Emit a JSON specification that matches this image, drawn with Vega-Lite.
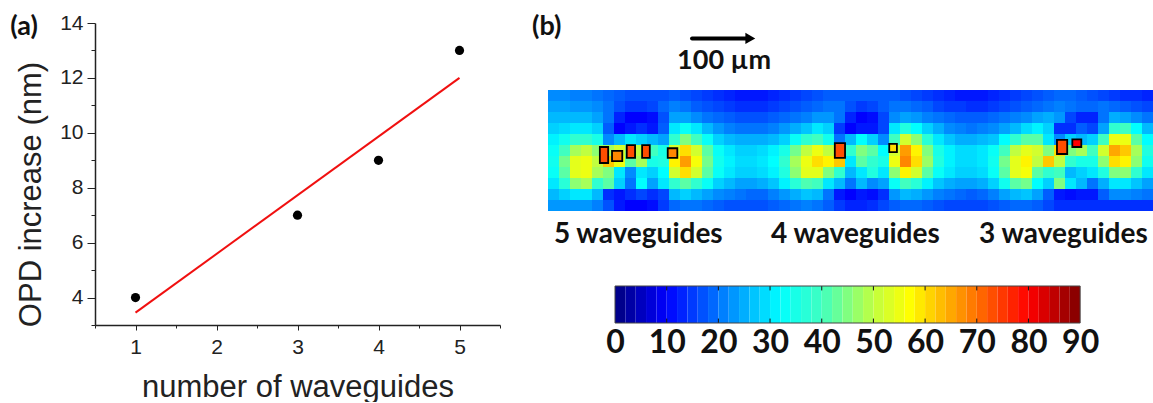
{"$schema":"https://vega.github.io/schema/vega-lite/v6.json","padding":{"left":10,"top":0,"right":0,"bottom":0},"background":"white","config":{"view":{"stroke":null}},"spacing":31,"hconcat":[{"bounds":"flush","spacing":0,"vconcat":[{"width":405,"height":23,"data":{"values":[{"x":-0.376,"y":13.87,"t":"(a)"}]},"mark":{"type":"text","font":"Lato","fontWeight":"bold","fontSize":27,"color":"#111"},"encoding":{"x":{"field":"x","type":"quantitative","axis":null,"scale":{"domain":[0.5,5.5],"nice":false,"zero":false}},"y":{"field":"y","type":"quantitative","axis":null,"scale":{"domain":[14,14.84],"nice":false,"zero":false}},"text":{"field":"t"}}},{"width":405,"height":302,"resolve":{"axis":{"x":"independent","y":"independent"}},"layer":[{"data":{"values":[{"n":1,"o":3.45},{"n":5,"o":12}]},"mark":{"type":"line","color":"#f01010","strokeWidth":2},"encoding":{"x":{"field":"n","type":"quantitative","scale":{"domain":[0.5,5.5],"nice":false,"zero":false},"axis":{"orient":"bottom","title":"number of waveguides","titleFont":"Liberation Sans","titleFontSize":31,"titleFontWeight":"normal","titleColor":"#222","titlePadding":15,"values":[1,2,3,4,5],"format":"d","labelFont":"Liberation Sans","labelFontSize":21,"labelColor":"#222","labelPadding":6,"labelFlush":false,"labelOverlap":false,"tickColor":"#222","tickSize":5,"domainColor":"#222","domainWidth":1.5,"grid":false}},"y":{"field":"o","type":"quantitative","scale":{"domain":[3,14],"nice":false,"zero":false},"axis":{"orient":"left","title":"OPD increase (nm)","titleFont":"Liberation Sans","titleFontSize":31,"titleFontWeight":"normal","titleColor":"#222","titleX":-48,"titleY":171,"values":[4,6,8,10,12,14],"format":"d","labelFont":"Liberation Sans","labelFontSize":21,"labelColor":"#222","labelPadding":4,"labelFlush":false,"labelOverlap":false,"tickColor":"#222","tickSize":8,"domainColor":"#222","domainWidth":1.5,"grid":false}}}},{"data":{"values":[{"n":1,"o":4},{"n":3,"o":7},{"n":4,"o":9},{"n":5,"o":13}]},"mark":{"type":"point","filled":true,"color":"black","opacity":1,"size":85},"encoding":{"x":{"field":"n","type":"quantitative","axis":{"orient":"bottom","title":null,"values":[0.5,1.5,2.5,3.5,4.5,5.5],"labels":false,"tickSize":3,"tickColor":"#222","domain":false,"grid":false}},"y":{"field":"o","type":"quantitative","axis":{"orient":"left","title":null,"values":[3,5,7,9,11,13],"labels":false,"tickSize":4,"tickColor":"#222","domain":false,"grid":false}}}}]}]},{"bounds":"flush","spacing":0,"vconcat":[{"width":605,"height":90,"layer":[{"data":{"values":[{"x":-2,"y":42,"t":"(b)"}]},"mark":{"type":"text","font":"Lato","fontWeight":"bold","fontSize":27,"color":"#111"},"encoding":{"x":{"field":"x","type":"quantitative","axis":null,"scale":{"domain":[0,945],"nice":false,"zero":false}},"y":{"field":"y","type":"quantitative","axis":null,"scale":{"domain":[140.6,0],"nice":false,"zero":false}},"text":{"field":"t"}}},{"data":{"values":[{"x":275,"y":95,"t":"100 µm"}]},"mark":{"type":"text","font":"Lato","fontWeight":"bold","fontSize":27,"color":"#111"},"encoding":{"x":{"field":"x","type":"quantitative"},"y":{"field":"y","type":"quantitative"},"text":{"field":"t"}}},{"data":{"values":[{"x":225,"x2":310,"y":60}]},"mark":{"type":"rule","color":"black","strokeWidth":4,"strokeCap":"round"},"encoding":{"x":{"field":"x","type":"quantitative"},"x2":{"field":"x2"},"y":{"field":"y","type":"quantitative"}}},{"data":{"values":[{"x":316,"y":60}]},"mark":{"type":"point","shape":"triangle-right","filled":true,"color":"black","opacity":1,"size":130},"encoding":{"x":{"field":"x","type":"quantitative"},"y":{"field":"y","type":"quantitative"}}}]},{"width":605,"height":121,"resolve":{"scale":{"x":"independent","y":"independent"}},"layer":[{"data":{"values":[
{"c":0,"r":0,"v":22},{"c":1,"r":0,"v":22},{"c":2,"r":0,"v":21},{"c":3,"r":0,"v":21},{"c":4,"r":0,"v":20},{"c":5,"r":0,"v":19},{"c":6,"r":0,"v":18},{"c":7,"r":0,"v":17},{"c":8,"r":0,"v":17},{"c":9,"r":0,"v":17},{"c":10,"r":0,"v":17},{"c":11,"r":0,"v":18},{"c":12,"r":0,"v":17},{"c":13,"r":0,"v":16},{"c":14,"r":0,"v":15},{"c":15,"r":0,"v":14},{"c":16,"r":0,"v":13},{"c":17,"r":0,"v":12},{"c":18,"r":0,"v":12},{"c":19,"r":0,"v":12},{"c":20,"r":0,"v":13},{"c":21,"r":0,"v":14},{"c":22,"r":0,"v":15},{"c":23,"r":0,"v":16},{"c":24,"r":0,"v":17},{"c":25,"r":0,"v":18},{"c":26,"r":0,"v":18},{"c":27,"r":0,"v":18},{"c":28,"r":0,"v":18},{"c":29,"r":0,"v":18},{"c":30,"r":0,"v":18},{"c":31,"r":0,"v":18},{"c":32,"r":0,"v":17},{"c":33,"r":0,"v":16},{"c":34,"r":0,"v":15},{"c":35,"r":0,"v":14},{"c":36,"r":0,"v":13},{"c":37,"r":0,"v":12},{"c":38,"r":0,"v":12},{"c":39,"r":0,"v":12},{"c":40,"r":0,"v":13},{"c":41,"r":0,"v":14},{"c":42,"r":0,"v":15},{"c":43,"r":0,"v":16},{"c":44,"r":0,"v":17},{"c":45,"r":0,"v":18},{"c":46,"r":0,"v":19},{"c":47,"r":0,"v":19},{"c":48,"r":0,"v":18},{"c":49,"r":0,"v":17},{"c":50,"r":0,"v":16},{"c":51,"r":0,"v":15},{"c":52,"r":0,"v":14},{"c":53,"r":0,"v":14},{"c":54,"r":0,"v":13},
{"c":0,"r":1,"v":24},{"c":1,"r":1,"v":24},{"c":2,"r":1,"v":23},{"c":3,"r":1,"v":23},{"c":4,"r":1,"v":22},{"c":5,"r":1,"v":20},{"c":6,"r":1,"v":17},{"c":7,"r":1,"v":15},{"c":8,"r":1,"v":15},{"c":9,"r":1,"v":16},{"c":10,"r":1,"v":19},{"c":11,"r":1,"v":21},{"c":12,"r":1,"v":20},{"c":13,"r":1,"v":18},{"c":14,"r":1,"v":17},{"c":15,"r":1,"v":16},{"c":16,"r":1,"v":15},{"c":17,"r":1,"v":14},{"c":18,"r":1,"v":14},{"c":19,"r":1,"v":14},{"c":20,"r":1,"v":15},{"c":21,"r":1,"v":16},{"c":22,"r":1,"v":17},{"c":23,"r":1,"v":18},{"c":24,"r":1,"v":19},{"c":25,"r":1,"v":20},{"c":26,"r":1,"v":20},{"c":27,"r":1,"v":17},{"c":28,"r":1,"v":15},{"c":29,"r":1,"v":16},{"c":30,"r":1,"v":18},{"c":31,"r":1,"v":20},{"c":32,"r":1,"v":20},{"c":33,"r":1,"v":19},{"c":34,"r":1,"v":18},{"c":35,"r":1,"v":16},{"c":36,"r":1,"v":15},{"c":37,"r":1,"v":15},{"c":38,"r":1,"v":14},{"c":39,"r":1,"v":14},{"c":40,"r":1,"v":15},{"c":41,"r":1,"v":16},{"c":42,"r":1,"v":17},{"c":43,"r":1,"v":18},{"c":44,"r":1,"v":19},{"c":45,"r":1,"v":20},{"c":46,"r":1,"v":21},{"c":47,"r":1,"v":20},{"c":48,"r":1,"v":19},{"c":49,"r":1,"v":19},{"c":50,"r":1,"v":20},{"c":51,"r":1,"v":19},{"c":52,"r":1,"v":18},{"c":53,"r":1,"v":17},{"c":54,"r":1,"v":16},
{"c":0,"r":2,"v":26},{"c":1,"r":2,"v":26},{"c":2,"r":2,"v":26},{"c":3,"r":2,"v":26},{"c":4,"r":2,"v":24},{"c":5,"r":2,"v":20},{"c":6,"r":2,"v":13},{"c":7,"r":2,"v":10},{"c":8,"r":2,"v":10},{"c":9,"r":2,"v":11},{"c":10,"r":2,"v":17},{"c":11,"r":2,"v":24},{"c":12,"r":2,"v":24},{"c":13,"r":2,"v":22},{"c":14,"r":2,"v":20},{"c":15,"r":2,"v":19},{"c":16,"r":2,"v":18},{"c":17,"r":2,"v":17},{"c":18,"r":2,"v":17},{"c":19,"r":2,"v":17},{"c":20,"r":2,"v":18},{"c":21,"r":2,"v":19},{"c":22,"r":2,"v":20},{"c":23,"r":2,"v":21},{"c":24,"r":2,"v":23},{"c":25,"r":2,"v":23},{"c":26,"r":2,"v":20},{"c":27,"r":2,"v":13},{"c":28,"r":2,"v":10},{"c":29,"r":2,"v":11},{"c":30,"r":2,"v":16},{"c":31,"r":2,"v":22},{"c":32,"r":2,"v":24},{"c":33,"r":2,"v":23},{"c":34,"r":2,"v":21},{"c":35,"r":2,"v":20},{"c":36,"r":2,"v":19},{"c":37,"r":2,"v":18},{"c":38,"r":2,"v":18},{"c":39,"r":2,"v":18},{"c":40,"r":2,"v":19},{"c":41,"r":2,"v":20},{"c":42,"r":2,"v":21},{"c":43,"r":2,"v":22},{"c":44,"r":2,"v":24},{"c":45,"r":2,"v":25},{"c":46,"r":2,"v":23},{"c":47,"r":2,"v":16},{"c":48,"r":2,"v":13},{"c":49,"r":2,"v":13},{"c":50,"r":2,"v":20},{"c":51,"r":2,"v":25},{"c":52,"r":2,"v":24},{"c":53,"r":2,"v":22},{"c":54,"r":2,"v":20},
{"c":0,"r":3,"v":28},{"c":1,"r":3,"v":29},{"c":2,"r":3,"v":30},{"c":3,"r":3,"v":30},{"c":4,"r":3,"v":28},{"c":5,"r":3,"v":18},{"c":6,"r":3,"v":10},{"c":7,"r":3,"v":12},{"c":8,"r":3,"v":14},{"c":9,"r":3,"v":12},{"c":10,"r":3,"v":18},{"c":11,"r":3,"v":30},{"c":12,"r":3,"v":33},{"c":13,"r":3,"v":30},{"c":14,"r":3,"v":26},{"c":15,"r":3,"v":23},{"c":16,"r":3,"v":21},{"c":17,"r":3,"v":20},{"c":18,"r":3,"v":20},{"c":19,"r":3,"v":20},{"c":20,"r":3,"v":21},{"c":21,"r":3,"v":23},{"c":22,"r":3,"v":25},{"c":23,"r":3,"v":27},{"c":24,"r":3,"v":30},{"c":25,"r":3,"v":28},{"c":26,"r":3,"v":15},{"c":27,"r":3,"v":10},{"c":28,"r":3,"v":12},{"c":29,"r":3,"v":12},{"c":30,"r":3,"v":16},{"c":31,"r":3,"v":30},{"c":32,"r":3,"v":36},{"c":33,"r":3,"v":32},{"c":34,"r":3,"v":28},{"c":35,"r":3,"v":25},{"c":36,"r":3,"v":22},{"c":37,"r":3,"v":21},{"c":38,"r":3,"v":20},{"c":39,"r":3,"v":21},{"c":40,"r":3,"v":22},{"c":41,"r":3,"v":24},{"c":42,"r":3,"v":26},{"c":43,"r":3,"v":29},{"c":44,"r":3,"v":31},{"c":45,"r":3,"v":28},{"c":46,"r":3,"v":14},{"c":47,"r":3,"v":14},{"c":48,"r":3,"v":18},{"c":49,"r":3,"v":16},{"c":50,"r":3,"v":24},{"c":51,"r":3,"v":38},{"c":52,"r":3,"v":40},{"c":53,"r":3,"v":32},{"c":54,"r":3,"v":26},
{"c":0,"r":4,"v":31},{"c":1,"r":4,"v":34},{"c":2,"r":4,"v":38},{"c":3,"r":4,"v":38},{"c":4,"r":4,"v":35},{"c":5,"r":4,"v":22},{"c":6,"r":4,"v":26},{"c":7,"r":4,"v":30},{"c":8,"r":4,"v":28},{"c":9,"r":4,"v":26},{"c":10,"r":4,"v":24},{"c":11,"r":4,"v":38},{"c":12,"r":4,"v":45},{"c":13,"r":4,"v":40},{"c":14,"r":4,"v":33},{"c":15,"r":4,"v":28},{"c":16,"r":4,"v":26},{"c":17,"r":4,"v":25},{"c":18,"r":4,"v":25},{"c":19,"r":4,"v":25},{"c":20,"r":4,"v":26},{"c":21,"r":4,"v":28},{"c":22,"r":4,"v":33},{"c":23,"r":4,"v":38},{"c":24,"r":4,"v":40},{"c":25,"r":4,"v":34},{"c":26,"r":4,"v":20},{"c":27,"r":4,"v":26},{"c":28,"r":4,"v":32},{"c":29,"r":4,"v":28},{"c":30,"r":4,"v":22},{"c":31,"r":4,"v":40},{"c":32,"r":4,"v":52},{"c":33,"r":4,"v":46},{"c":34,"r":4,"v":37},{"c":35,"r":4,"v":30},{"c":36,"r":4,"v":27},{"c":37,"r":4,"v":25},{"c":38,"r":4,"v":25},{"c":39,"r":4,"v":26},{"c":40,"r":4,"v":27},{"c":41,"r":4,"v":32},{"c":42,"r":4,"v":38},{"c":43,"r":4,"v":42},{"c":44,"r":4,"v":42},{"c":45,"r":4,"v":30},{"c":46,"r":4,"v":22},{"c":47,"r":4,"v":28},{"c":48,"r":4,"v":26},{"c":49,"r":4,"v":28},{"c":50,"r":4,"v":40},{"c":51,"r":4,"v":55},{"c":52,"r":4,"v":55},{"c":53,"r":4,"v":42},{"c":54,"r":4,"v":32},
{"c":0,"r":5,"v":33},{"c":1,"r":5,"v":40},{"c":2,"r":5,"v":48},{"c":3,"r":5,"v":50},{"c":4,"r":5,"v":46},{"c":5,"r":5,"v":48},{"c":6,"r":5,"v":52},{"c":7,"r":5,"v":45},{"c":8,"r":5,"v":50},{"c":9,"r":5,"v":40},{"c":10,"r":5,"v":35},{"c":11,"r":5,"v":52},{"c":12,"r":5,"v":60},{"c":13,"r":5,"v":52},{"c":14,"r":5,"v":42},{"c":15,"r":5,"v":33},{"c":16,"r":5,"v":30},{"c":17,"r":5,"v":28},{"c":18,"r":5,"v":28},{"c":19,"r":5,"v":29},{"c":20,"r":5,"v":31},{"c":21,"r":5,"v":35},{"c":22,"r":5,"v":44},{"c":23,"r":5,"v":50},{"c":24,"r":5,"v":55},{"c":25,"r":5,"v":50},{"c":26,"r":5,"v":50},{"c":27,"r":5,"v":38},{"c":28,"r":5,"v":45},{"c":29,"r":5,"v":42},{"c":30,"r":5,"v":32},{"c":31,"r":5,"v":52},{"c":32,"r":5,"v":66},{"c":33,"r":5,"v":58},{"c":34,"r":5,"v":45},{"c":35,"r":5,"v":35},{"c":36,"r":5,"v":31},{"c":37,"r":5,"v":29},{"c":38,"r":5,"v":29},{"c":39,"r":5,"v":30},{"c":40,"r":5,"v":33},{"c":41,"r":5,"v":40},{"c":42,"r":5,"v":50},{"c":43,"r":5,"v":54},{"c":44,"r":5,"v":52},{"c":45,"r":5,"v":45},{"c":46,"r":5,"v":60},{"c":47,"r":5,"v":45},{"c":48,"r":5,"v":48},{"c":49,"r":5,"v":40},{"c":50,"r":5,"v":52},{"c":51,"r":5,"v":65},{"c":52,"r":5,"v":62},{"c":53,"r":5,"v":48},{"c":54,"r":5,"v":36},
{"c":0,"r":6,"v":34},{"c":1,"r":6,"v":44},{"c":2,"r":6,"v":54},{"c":3,"r":6,"v":55},{"c":4,"r":6,"v":50},{"c":5,"r":6,"v":62},{"c":6,"r":6,"v":55},{"c":7,"r":6,"v":42},{"c":8,"r":6,"v":48},{"c":9,"r":6,"v":35},{"c":10,"r":6,"v":36},{"c":11,"r":6,"v":58},{"c":12,"r":6,"v":66},{"c":13,"r":6,"v":56},{"c":14,"r":6,"v":44},{"c":15,"r":6,"v":34},{"c":16,"r":6,"v":31},{"c":17,"r":6,"v":29},{"c":18,"r":6,"v":29},{"c":19,"r":6,"v":30},{"c":20,"r":6,"v":32},{"c":21,"r":6,"v":38},{"c":22,"r":6,"v":48},{"c":23,"r":6,"v":55},{"c":24,"r":6,"v":60},{"c":25,"r":6,"v":58},{"c":26,"r":6,"v":62},{"c":27,"r":6,"v":30},{"c":28,"r":6,"v":42},{"c":29,"r":6,"v":38},{"c":30,"r":6,"v":35},{"c":31,"r":6,"v":55},{"c":32,"r":6,"v":68},{"c":33,"r":6,"v":60},{"c":34,"r":6,"v":47},{"c":35,"r":6,"v":36},{"c":36,"r":6,"v":31},{"c":37,"r":6,"v":29},{"c":38,"r":6,"v":29},{"c":39,"r":6,"v":30},{"c":40,"r":6,"v":34},{"c":41,"r":6,"v":44},{"c":42,"r":6,"v":54},{"c":43,"r":6,"v":58},{"c":44,"r":6,"v":50},{"c":45,"r":6,"v":62},{"c":46,"r":6,"v":50},{"c":47,"r":6,"v":38},{"c":48,"r":6,"v":35},{"c":49,"r":6,"v":35},{"c":50,"r":6,"v":46},{"c":51,"r":6,"v":60},{"c":52,"r":6,"v":58},{"c":53,"r":6,"v":46},{"c":54,"r":6,"v":34},
{"c":0,"r":7,"v":33},{"c":1,"r":7,"v":42},{"c":2,"r":7,"v":54},{"c":3,"r":7,"v":55},{"c":4,"r":7,"v":48},{"c":5,"r":7,"v":45},{"c":6,"r":7,"v":30},{"c":7,"r":7,"v":22},{"c":8,"r":7,"v":30},{"c":9,"r":7,"v":28},{"c":10,"r":7,"v":32},{"c":11,"r":7,"v":52},{"c":12,"r":7,"v":60},{"c":13,"r":7,"v":52},{"c":14,"r":7,"v":42},{"c":15,"r":7,"v":33},{"c":16,"r":7,"v":30},{"c":17,"r":7,"v":28},{"c":18,"r":7,"v":28},{"c":19,"r":7,"v":29},{"c":20,"r":7,"v":31},{"c":21,"r":7,"v":36},{"c":22,"r":7,"v":46},{"c":23,"r":7,"v":54},{"c":24,"r":7,"v":54},{"c":25,"r":7,"v":45},{"c":26,"r":7,"v":38},{"c":27,"r":7,"v":26},{"c":28,"r":7,"v":30},{"c":29,"r":7,"v":36},{"c":30,"r":7,"v":30},{"c":31,"r":7,"v":46},{"c":32,"r":7,"v":58},{"c":33,"r":7,"v":52},{"c":34,"r":7,"v":42},{"c":35,"r":7,"v":33},{"c":36,"r":7,"v":30},{"c":37,"r":7,"v":28},{"c":38,"r":7,"v":28},{"c":39,"r":7,"v":29},{"c":40,"r":7,"v":33},{"c":41,"r":7,"v":42},{"c":42,"r":7,"v":54},{"c":43,"r":7,"v":56},{"c":44,"r":7,"v":42},{"c":45,"r":7,"v":38},{"c":46,"r":7,"v":40},{"c":47,"r":7,"v":26},{"c":48,"r":7,"v":28},{"c":49,"r":7,"v":30},{"c":50,"r":7,"v":36},{"c":51,"r":7,"v":45},{"c":52,"r":7,"v":46},{"c":53,"r":7,"v":38},{"c":54,"r":7,"v":30},
{"c":0,"r":8,"v":30},{"c":1,"r":8,"v":37},{"c":2,"r":8,"v":46},{"c":3,"r":8,"v":48},{"c":4,"r":8,"v":38},{"c":5,"r":8,"v":42},{"c":6,"r":8,"v":28},{"c":7,"r":8,"v":20},{"c":8,"r":8,"v":32},{"c":9,"r":8,"v":24},{"c":10,"r":8,"v":30},{"c":11,"r":8,"v":38},{"c":12,"r":8,"v":42},{"c":13,"r":8,"v":38},{"c":14,"r":8,"v":33},{"c":15,"r":8,"v":28},{"c":16,"r":8,"v":26},{"c":17,"r":8,"v":24},{"c":18,"r":8,"v":24},{"c":19,"r":8,"v":25},{"c":20,"r":8,"v":27},{"c":21,"r":8,"v":31},{"c":22,"r":8,"v":37},{"c":23,"r":8,"v":41},{"c":24,"r":8,"v":40},{"c":25,"r":8,"v":30},{"c":26,"r":8,"v":26},{"c":27,"r":8,"v":20},{"c":28,"r":8,"v":26},{"c":29,"r":8,"v":22},{"c":30,"r":8,"v":24},{"c":31,"r":8,"v":33},{"c":32,"r":8,"v":40},{"c":33,"r":8,"v":37},{"c":34,"r":8,"v":31},{"c":35,"r":8,"v":27},{"c":36,"r":8,"v":25},{"c":37,"r":8,"v":24},{"c":38,"r":8,"v":24},{"c":39,"r":8,"v":25},{"c":40,"r":8,"v":28},{"c":41,"r":8,"v":34},{"c":42,"r":8,"v":42},{"c":43,"r":8,"v":44},{"c":44,"r":8,"v":32},{"c":45,"r":8,"v":28},{"c":46,"r":8,"v":45},{"c":47,"r":8,"v":30},{"c":48,"r":8,"v":26},{"c":49,"r":8,"v":20},{"c":50,"r":8,"v":25},{"c":51,"r":8,"v":30},{"c":52,"r":8,"v":30},{"c":53,"r":8,"v":27},{"c":54,"r":8,"v":24},
{"c":0,"r":9,"v":26},{"c":1,"r":9,"v":28},{"c":2,"r":9,"v":30},{"c":3,"r":9,"v":30},{"c":4,"r":9,"v":26},{"c":5,"r":9,"v":14},{"c":6,"r":9,"v":12},{"c":7,"r":9,"v":14},{"c":8,"r":9,"v":16},{"c":9,"r":9,"v":14},{"c":10,"r":9,"v":16},{"c":11,"r":9,"v":26},{"c":12,"r":9,"v":28},{"c":13,"r":9,"v":26},{"c":14,"r":9,"v":24},{"c":15,"r":9,"v":22},{"c":16,"r":9,"v":21},{"c":17,"r":9,"v":20},{"c":18,"r":9,"v":19},{"c":19,"r":9,"v":19},{"c":20,"r":9,"v":21},{"c":21,"r":9,"v":23},{"c":22,"r":9,"v":25},{"c":23,"r":9,"v":27},{"c":24,"r":9,"v":26},{"c":25,"r":9,"v":20},{"c":26,"r":9,"v":12},{"c":27,"r":9,"v":10},{"c":28,"r":9,"v":12},{"c":29,"r":9,"v":11},{"c":30,"r":9,"v":14},{"c":31,"r":9,"v":23},{"c":32,"r":9,"v":26},{"c":33,"r":9,"v":25},{"c":34,"r":9,"v":23},{"c":35,"r":9,"v":21},{"c":36,"r":9,"v":20},{"c":37,"r":9,"v":19},{"c":38,"r":9,"v":18},{"c":39,"r":9,"v":19},{"c":40,"r":9,"v":21},{"c":41,"r":9,"v":24},{"c":42,"r":9,"v":26},{"c":43,"r":9,"v":27},{"c":44,"r":9,"v":24},{"c":45,"r":9,"v":18},{"c":46,"r":9,"v":12},{"c":47,"r":9,"v":11},{"c":48,"r":9,"v":12},{"c":49,"r":9,"v":12},{"c":50,"r":9,"v":18},{"c":51,"r":9,"v":22},{"c":52,"r":9,"v":22},{"c":53,"r":9,"v":21},{"c":54,"r":9,"v":20},
{"c":0,"r":10,"v":23},{"c":1,"r":10,"v":23},{"c":2,"r":10,"v":23},{"c":3,"r":10,"v":23},{"c":4,"r":10,"v":21},{"c":5,"r":10,"v":17},{"c":6,"r":10,"v":12},{"c":7,"r":10,"v":10},{"c":8,"r":10,"v":10},{"c":9,"r":10,"v":11},{"c":10,"r":10,"v":15},{"c":11,"r":10,"v":19},{"c":12,"r":10,"v":20},{"c":13,"r":10,"v":20},{"c":14,"r":10,"v":19},{"c":15,"r":10,"v":18},{"c":16,"r":10,"v":17},{"c":17,"r":10,"v":17},{"c":18,"r":10,"v":17},{"c":19,"r":10,"v":17},{"c":20,"r":10,"v":18},{"c":21,"r":10,"v":19},{"c":22,"r":10,"v":20},{"c":23,"r":10,"v":21},{"c":24,"r":10,"v":20},{"c":25,"r":10,"v":18},{"c":26,"r":10,"v":15},{"c":27,"r":10,"v":13},{"c":28,"r":10,"v":13},{"c":29,"r":10,"v":14},{"c":30,"r":10,"v":16},{"c":31,"r":10,"v":18},{"c":32,"r":10,"v":19},{"c":33,"r":10,"v":19},{"c":34,"r":10,"v":18},{"c":35,"r":10,"v":17},{"c":36,"r":10,"v":16},{"c":37,"r":10,"v":16},{"c":38,"r":10,"v":16},{"c":39,"r":10,"v":16},{"c":40,"r":10,"v":17},{"c":41,"r":10,"v":18},{"c":42,"r":10,"v":19},{"c":43,"r":10,"v":19},{"c":44,"r":10,"v":18},{"c":45,"r":10,"v":16},{"c":46,"r":10,"v":14},{"c":47,"r":10,"v":14},{"c":48,"r":10,"v":14},{"c":49,"r":10,"v":14},{"c":50,"r":10,"v":14},{"c":51,"r":10,"v":14},{"c":52,"r":10,"v":14},{"c":53,"r":10,"v":14},{"c":54,"r":10,"v":14}
]},"mark":{"type":"rect"},"encoding":{"x":{"field":"c","type":"ordinal","axis":null,"scale":{"padding":0}},"y":{"field":"r","type":"ordinal","axis":null,"scale":{"padding":0}},"color":{"field":"v","type":"quantitative","legend":null,"scale":{"domain":[0,10,32,40,50,57,70,80,90],"range":["#00007f","#0000ff","#00ffff","#40ffc0","#c0ff40","#ffff00","#ff7000","#ff0000","#7f0000"],"interpolate":"rgb"}}}},{"data":{"values":[{"a":81,"b":94,"t":89,"u":114,"v":73},{"a":100,"b":116,"t":95,"u":111,"v":68},{"a":123,"b":136,"t":86,"u":106,"v":73},{"a":147,"b":159,"t":86,"u":106,"v":73},{"a":187,"b":202,"t":91,"u":106,"v":68},{"a":448,"b":464,"t":83,"u":106,"v":73},{"a":533,"b":545,"t":84,"u":97,"v":60},{"a":795,"b":811,"t":78,"u":100,"v":73},{"a":819,"b":833,"t":77,"u":89,"v":80}]},"mark":{"type":"rect","stroke":"black","strokeWidth":1.8},"encoding":{"x":{"field":"a","type":"quantitative","axis":null,"scale":{"domain":[0,945],"nice":false,"zero":false}},"x2":{"field":"b"},"y":{"field":"t","type":"quantitative","axis":null,"scale":{"domain":[189,0],"nice":false,"zero":false}},"y2":{"field":"u"},"color":{"field":"v","type":"quantitative","legend":null}}}]},{"width":605,"height":75,"data":{"values":[{"x":141,"y":37,"t":"5 waveguides"},{"x":480,"y":37,"t":"4 waveguides"},{"x":805,"y":37,"t":"3 waveguides"}]},"mark":{"type":"text","font":"Lato","fontWeight":"bold","fontSize":28,"color":"#111"},"encoding":{"x":{"field":"x","type":"quantitative","axis":null,"scale":{"domain":[0,945],"nice":false,"zero":false}},"y":{"field":"y","type":"quantitative","axis":null,"scale":{"domain":[117,0],"nice":false,"zero":false}},"text":{"field":"t"}}},{"width":605,"height":37,"layer":[{"data":{"values":[{"lo":0,"hi":2,"v":1},{"lo":2,"hi":4,"v":3},{"lo":4,"hi":6,"v":5},{"lo":6,"hi":8,"v":7},{"lo":8,"hi":10,"v":9},{"lo":10,"hi":12,"v":11},{"lo":12,"hi":14,"v":13},{"lo":14,"hi":16,"v":15},{"lo":16,"hi":18,"v":17},{"lo":18,"hi":20,"v":19},{"lo":20,"hi":22,"v":21},{"lo":22,"hi":24,"v":23},{"lo":24,"hi":26,"v":25},{"lo":26,"hi":28,"v":27},{"lo":28,"hi":30,"v":29},{"lo":30,"hi":32,"v":31},{"lo":32,"hi":34,"v":33},{"lo":34,"hi":36,"v":35},{"lo":36,"hi":38,"v":37},{"lo":38,"hi":40,"v":39},{"lo":40,"hi":42,"v":41},{"lo":42,"hi":44,"v":43},{"lo":44,"hi":46,"v":45},{"lo":46,"hi":48,"v":47},{"lo":48,"hi":50,"v":49},{"lo":50,"hi":52,"v":51},{"lo":52,"hi":54,"v":53},{"lo":54,"hi":56,"v":55},{"lo":56,"hi":58,"v":57},{"lo":58,"hi":60,"v":59},{"lo":60,"hi":62,"v":61},{"lo":62,"hi":64,"v":63},{"lo":64,"hi":66,"v":65},{"lo":66,"hi":68,"v":67},{"lo":68,"hi":70,"v":69},{"lo":70,"hi":72,"v":71},{"lo":72,"hi":74,"v":73},{"lo":74,"hi":76,"v":75},{"lo":76,"hi":78,"v":77},{"lo":78,"hi":80,"v":79},{"lo":80,"hi":82,"v":81},{"lo":82,"hi":84,"v":83},{"lo":84,"hi":86,"v":85},{"lo":86,"hi":88,"v":87},{"lo":88,"hi":90,"v":89}]},"mark":{"type":"rect","stroke":null},"encoding":{"x":{"field":"lo","type":"quantitative","scale":{"domain":[-12.97,104.1],"nice":false,"zero":false},"axis":{"title":null,"values":[0,10,20,30,40,50,60,70,80,90],"ticks":false,"domain":false,"grid":false,"labelFont":"Lato","labelFontWeight":"bold","labelFontSize":32,"labelColor":"#111","labelPadding":4,"labelFlush":false,"labelOverlap":false}},"x2":{"field":"hi"},"color":{"field":"v","type":"quantitative","legend":null,"scale":{"domain":[0,10,32,40,50,57,70,80,90],"range":["#00007f","#0000ff","#00ffff","#40ffc0","#c0ff40","#ffff00","#ff7000","#ff0000","#7f0000"],"interpolate":"rgb"}}}},{"data":{"values":[{"t":10,"a":0,"b":0.12},{"t":20,"a":0,"b":0.12},{"t":30,"a":0,"b":0.12},{"t":40,"a":0,"b":0.12},{"t":50,"a":0,"b":0.12},{"t":60,"a":0,"b":0.12},{"t":70,"a":0,"b":0.12},{"t":80,"a":0,"b":0.12},{"t":10,"a":0.88,"b":1},{"t":20,"a":0.88,"b":1},{"t":30,"a":0.88,"b":1},{"t":40,"a":0.88,"b":1},{"t":50,"a":0.88,"b":1},{"t":60,"a":0.88,"b":1},{"t":70,"a":0.88,"b":1},{"t":80,"a":0.88,"b":1}]},"mark":{"type":"rule","color":"#111","strokeWidth":1},"encoding":{"x":{"field":"t","type":"quantitative"},"y":{"field":"a","type":"quantitative","axis":null,"scale":{"domain":[0,1],"nice":false,"zero":false}},"y2":{"field":"b"}}},{"data":{"values":[{"lo":0,"hi":90}]},"mark":{"type":"rect","fill":null,"stroke":"#444","strokeWidth":1},"encoding":{"x":{"field":"lo","type":"quantitative"},"x2":{"field":"hi"}}}]}]}]}
